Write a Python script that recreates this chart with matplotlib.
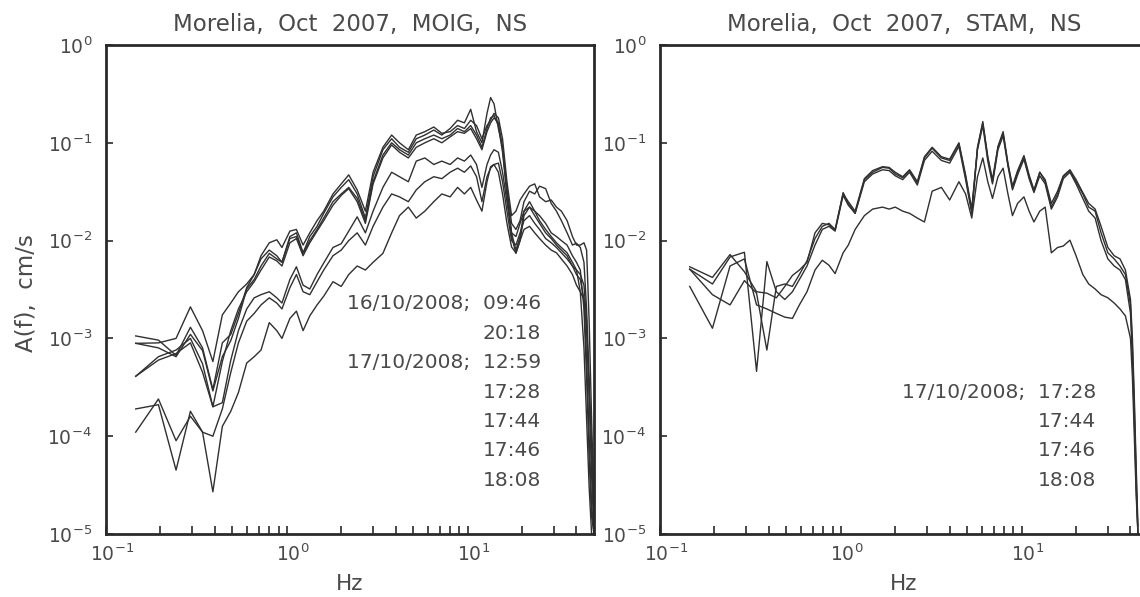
import numpy as np
import matplotlib
matplotlib.use('Agg')
import matplotlib.pyplot as plt
from matplotlib.ticker import LogLocator, NullFormatter, FixedLocator
from matplotlib.transforms import ScaledTranslation

# ---- data: MOIG, NS (left panel) ----
f_moig = [0.146, 0.195, 0.244, 0.293, 0.342, 0.39, 0.44, 0.49, 0.54, 0.60, 0.66, 0.72, 0.80, 0.88,
          0.94, 1.04, 1.13, 1.23, 1.34, 1.47, 1.6, 1.8, 2.0, 2.2, 2.45, 2.72, 3.0, 3.4, 3.8, 4.2,
          4.7, 5.2, 5.8, 6.5, 7.2, 8.0, 8.8, 9.6, 10.4, 11.2, 12.0, 12.8, 13.4, 14.0, 14.8, 15.6,
          16.5, 17.5, 18.5, 19.5, 20.5, 22, 23.5, 25, 27, 29, 31, 33, 35.5, 38, 40, 42, 44, 45.5,
          47, 48.5, 50]

moig_1 = [1.06e-3, 9.6e-4, 6.7e-4, 1.3e-3, 8.0e-4, 3.0e-4, 9e-4, 1.1e-3, 1.8e-3, 3.3e-3, 4.5e-3, 6.5e-3,
          8.0e-3, 7.0e-3, 6.0e-3, 0.011, 0.012, 7.5e-3, 0.011, 0.014, 0.019, 0.028, 0.035, 0.042, 0.03,
          0.017, 0.045, 0.085, 0.11, 0.09, 0.08, 0.11, 0.12, 0.135, 0.12, 0.14, 0.17, 0.16, 0.22, 0.13,
          0.1, 0.2, 0.29, 0.25, 0.14, 0.09, 0.035, 0.015, 0.013, 0.016, 0.025, 0.032, 0.03, 0.036,
          0.034, 0.024, 0.02, 0.016, 0.012, 9e-3, 9.4e-3, 8.5e-3, 6e-3, 2e-3, 4e-4, 6e-5, 1.5e-5]
moig_2 = [8.9e-4, 9.0e-4, 1.0e-3, 2.1e-3, 1.2e-3, 5.8e-4, 1.74e-3, 2.3e-3, 3.0e-3, 3.6e-3, 4.5e-3, 7.0e-3,
          9.5e-3, 0.0102, 8.5e-3, 0.0125, 0.013, 9.0e-3, 0.012, 0.016, 0.02, 0.03, 0.038, 0.047, 0.033,
          0.02, 0.05, 0.09, 0.12, 0.1, 0.085, 0.12, 0.13, 0.145, 0.125, 0.13, 0.15, 0.14, 0.17, 0.15,
          0.11, 0.15, 0.17, 0.2, 0.18, 0.11, 0.04, 0.018, 0.02, 0.026, 0.03, 0.036, 0.038, 0.028,
          0.025, 0.026, 0.022, 0.02, 0.016, 0.011, 9e-3, 9e-3, 9.5e-3, 8e-3, 1.5e-3, 1.5e-4, 2e-5]
moig_3 = [8.9e-4, 8.0e-4, 6.5e-4, 1.1e-3, 7.5e-4, 2.9e-4, 6.5e-4, 9.5e-4, 1.6e-3, 3.2e-3, 4.0e-3, 5.5e-3,
          7.4e-3, 6.5e-3, 6.0e-3, 0.0105, 0.011, 7.4e-3, 0.010, 0.013, 0.017, 0.025, 0.03, 0.035, 0.027,
          0.016, 0.04, 0.075, 0.1, 0.085, 0.075, 0.1, 0.11, 0.12, 0.11, 0.12, 0.14, 0.13, 0.15, 0.12,
          0.09, 0.14, 0.18, 0.19, 0.15, 0.08, 0.03, 0.012, 8e-3, 0.011, 0.02, 0.025, 0.02, 0.018,
          0.015, 0.012, 0.011, 0.01, 9e-3, 7e-3, 6e-3, 5e-3, 2e-3, 4e-4, 6e-5, 1.5e-5, 1e-5]
moig_4 = [4.1e-4, 6.5e-4, 7.6e-4, 1.0e-3, 5.5e-4, 2.0e-4, 5.8e-4, 1.2e-3, 2.0e-3, 3.0e-3, 3.8e-3, 5.0e-3,
          6.8e-3, 6.2e-3, 5.5e-3, 9.5e-3, 0.0105, 7.0e-3, 9.5e-3, 0.0125, 0.016, 0.023, 0.029, 0.034,
          0.025, 0.015, 0.038, 0.07, 0.095, 0.08, 0.07, 0.09, 0.1, 0.11, 0.1, 0.115, 0.13, 0.125, 0.14,
          0.11, 0.085, 0.13, 0.16, 0.18, 0.16, 0.09, 0.03, 0.011, 7.4e-3, 0.01, 0.018, 0.022, 0.02,
          0.016, 0.013, 0.011, 9.5e-3, 8.5e-3, 7.5e-3, 6e-3, 5e-3, 3e-3, 8e-4, 1.5e-4, 3e-5, 1e-5, 1e-5]
moig_5 = [4.1e-4, 6.0e-4, 7.0e-4, 9.0e-4, 4.5e-4, 2.0e-4, 2.2e-4, 6.0e-4, 1.2e-3, 2.0e-3, 2.6e-3, 2.8e-3,
          3.0e-3, 2.6e-3, 2.3e-3, 4.0e-3, 5.4e-3, 3.5e-3, 3.2e-3, 4.5e-3, 5.9e-3, 8.5e-3, 9.3e-3,
          0.0125, 0.0175, 0.012, 0.02, 0.035, 0.05, 0.045, 0.04, 0.065, 0.07, 0.06, 0.065, 0.06, 0.07,
          0.065, 0.075, 0.06, 0.035, 0.06, 0.075, 0.085, 0.08, 0.05, 0.025, 0.012, 0.011, 0.015, 0.02,
          0.022, 0.018, 0.015, 0.012, 0.0105, 9e-3, 8e-3, 7e-3, 5.5e-3, 4.5e-3, 4e-3, 2.5e-3, 6e-4,
          1e-4, 2e-5, 1e-5]
moig_6 = [1.9e-4, 2.1e-4, 4.5e-5, 1.8e-4, 1.1e-4, 1.0e-4, 1.9e-4, 4.5e-4, 9.0e-4, 1.5e-3, 1.8e-3, 2.2e-3,
          2.6e-3, 2.3e-3, 2.0e-3, 3.3e-3, 4.5e-3, 3.0e-3, 2.8e-3, 3.8e-3, 5.0e-3, 7.0e-3, 8.0e-3, 0.01,
          0.012, 9e-3, 0.014, 0.022, 0.03, 0.028, 0.025, 0.033, 0.04, 0.045, 0.043, 0.05, 0.055, 0.05,
          0.058, 0.045, 0.025, 0.045, 0.055, 0.06, 0.062, 0.04, 0.02, 0.01, 9e-3, 0.012, 0.016, 0.018,
          0.015, 0.013, 0.0105, 9.5e-3, 8.5e-3, 7.5e-3, 6.5e-3, 5.5e-3, 5e-3, 4.5e-3, 3.5e-3, 1.5e-3,
          2.5e-4, 4e-5, 1e-5]
moig_7 = [1.1e-4, 2.4e-4, 9.0e-5, 1.6e-4, 1.1e-4, 2.7e-5, 1.26e-4, 1.8e-4, 2.8e-4, 5.6e-4, 6.5e-4, 7.6e-4,
          1.45e-3, 1.2e-3, 1.0e-3, 1.6e-3, 1.9e-3, 1.2e-3, 1.7e-3, 2.2e-3, 2.7e-3, 3.8e-3, 3.4e-3,
          4.5e-3, 5.5e-3, 5.0e-3, 6.0e-3, 7.4e-3, 0.012, 0.018, 0.022, 0.017, 0.02, 0.025, 0.03, 0.028,
          0.035, 0.03, 0.035, 0.026, 0.02, 0.04, 0.057, 0.06, 0.05, 0.03, 0.015, 8.6e-3, 7.5e-3, 0.01,
          0.013, 0.014, 0.012, 0.0105, 9e-3, 8e-3, 7.5e-3, 6.5e-3, 5.5e-3, 4.5e-3, 3.5e-3, 3e-3, 2.5e-3,
          1.2e-3, 3e-4, 8e-5, 2e-5]

# ---- data: STAM, NS (right panel) ----
f_stam = [0.146, 0.195, 0.244, 0.293, 0.342, 0.39, 0.44, 0.49, 0.54, 0.59, 0.65, 0.72, 0.79, 0.86, 0.93,
          1.03, 1.1, 1.2, 1.35, 1.5, 1.7, 1.85, 2.0, 2.2, 2.4, 2.65, 2.9, 3.2, 3.6, 4.0, 4.5, 4.9, 5.3,
          5.7, 6.1, 6.5, 6.9, 7.4, 7.9, 8.4, 8.9, 9.5, 10.3, 11.0, 11.7, 12.6, 13.5, 14.6, 15.8, 17.0,
          18.5, 20, 21.8, 23.5, 25.5, 27.5, 30, 32.5, 35, 37.5, 40, 41, 42, 43, 44]

stam_1 = [5.4e-3, 4.2e-3, 7.2e-3, 4.8e-3, 3.0e-3, 2.9e-3, 2.6e-3, 3.4e-3, 4.4e-3, 5.0e-3, 6.0e-3, 0.012,
          0.015, 0.0145, 0.0128, 0.031, 0.024, 0.019, 0.042, 0.05, 0.056, 0.055, 0.048, 0.044, 0.052,
          0.039, 0.07, 0.088, 0.07, 0.066, 0.098, 0.045, 0.02, 0.09, 0.165, 0.07, 0.04, 0.09, 0.125,
          0.06, 0.035, 0.05, 0.072, 0.045, 0.032, 0.05, 0.04, 0.022, 0.03, 0.045, 0.052, 0.04, 0.03,
          0.022, 0.02, 0.012, 7.5e-3, 6.5e-3, 5.5e-3, 4.5e-3, 2.2e-3, 8e-4, 2e-4, 4e-5, 1e-5]
stam_2 = [5.1e-3, 3.6e-3, 6.8e-3, 7.6e-3, 4.6e-4, 6.1e-3, 3.0e-3, 2.5e-3, 3.0e-3, 4.0e-3, 5.5e-3, 9.0e-3,
          0.013, 0.014, 0.0125, 0.029, 0.023, 0.019, 0.04, 0.048, 0.053, 0.052, 0.046, 0.042, 0.05,
          0.037, 0.066, 0.082, 0.066, 0.062, 0.092, 0.042, 0.019, 0.085, 0.15, 0.065, 0.038, 0.085,
          0.118, 0.058, 0.033, 0.047, 0.068, 0.043, 0.031, 0.046, 0.038, 0.021, 0.028, 0.043, 0.05,
          0.038, 0.027, 0.02, 0.017, 0.01, 6.5e-3, 5.5e-3, 5e-3, 4e-3, 1.8e-3, 6e-4, 1.5e-4, 3e-5, 1e-5]
stam_3 = [5.1e-3, 2.8e-3, 2.2e-3, 3.9e-3, 2.9e-3, 7.6e-4, 3.4e-3, 3.6e-3, 3.4e-3, 4.5e-3, 6.2e-3, 0.0105,
          0.014, 0.015, 0.013, 0.03, 0.025, 0.02, 0.043, 0.052, 0.057, 0.056, 0.05, 0.045, 0.053, 0.04,
          0.072, 0.09, 0.072, 0.068, 0.1, 0.047, 0.021, 0.088, 0.158, 0.072, 0.042, 0.092, 0.13, 0.062,
          0.036, 0.052, 0.074, 0.047, 0.033, 0.05, 0.042, 0.024, 0.032, 0.046, 0.053, 0.042, 0.031,
          0.024, 0.021, 0.014, 8.5e-3, 7e-3, 6.5e-3, 5e-3, 2.5e-3, 1e-3, 2.5e-4, 5e-5, 1.2e-5]
stam_4 = [3.4e-3, 1.27e-3, 5.5e-3, 6.5e-3, 2.2e-3, 2.0e-3, 1.8e-3, 1.65e-3, 1.6e-3, 2.2e-3, 3.0e-3, 5.0e-3,
          6.3e-3, 5.6e-3, 4.6e-3, 7.5e-3, 9e-3, 0.013, 0.018, 0.021, 0.022, 0.021, 0.022, 0.02, 0.019,
          0.017, 0.0155, 0.032, 0.035, 0.026, 0.04, 0.03, 0.017, 0.045, 0.07, 0.04, 0.027, 0.045, 0.055,
          0.03, 0.018, 0.024, 0.028, 0.02, 0.0155, 0.02, 0.022, 7.5e-3, 8.5e-3, 8.8e-3, 0.0101, 7e-3,
          4.5e-3, 3.6e-3, 3.2e-3, 2.8e-3, 2.6e-3, 2.3e-3, 2e-3, 1.7e-3, 1.0e-3, 4e-4, 1e-4, 2.5e-5, 1e-5]

moig_labels = ['16/10/2008;  09:46', '20:18', '17/10/2008;  12:59', '17:28', '17:44', '17:46', '18:08']
stam_labels = ['17/10/2008;  17:28', '17:44', '17:46', '18:08']
label_rows = [0.472, 0.411, 0.35, 0.29, 0.231, 0.17, 0.11]

TXT = '#4a4a4a'
LINE = '#303030'
plt.rcParams['font.family'] = ['DejaVu Sans']

fig = plt.figure(figsize=(11.4, 5.97), dpi=100)
W, H = 1140, 597
ax1 = fig.add_axes([106 / W, 1 - 534 / H, 488 / W, 489 / H])
ax2 = fig.add_axes([660 / W, 1 - 534 / H, 488 / W, 489 / H])


def style(ax, title):
    ax.set_xscale('log')
    ax.set_yscale('log')
    ax.set_xlim(0.1, 50)
    ax.set_ylim(1e-5, 1)
    for s in ax.spines.values():
        s.set_linewidth(2.0)
        s.set_color('#2a2a2a')
    ax.xaxis.set_major_locator(FixedLocator([0.1, 1, 10]))
    ax.set_xticklabels([r'$\mathdefault{10^{-1}}$', r'$\mathdefault{10^{0}}$', r'$\mathdefault{10^{1}}$'])
    ax.xaxis.set_minor_locator(LogLocator(base=10, subs=np.arange(2, 10)))
    ax.xaxis.set_minor_formatter(NullFormatter())
    ax.yaxis.set_minor_locator(plt.NullLocator())
    ax.tick_params(axis='x', which='both', direction='in', length=6, width=1.2,
                   top=False, colors='#2a2a2a', labelcolor=TXT, labelsize=13.5, pad=7)
    ax.tick_params(axis='y', which='major', direction='in', length=5, width=1.2,
                   right=False, colors='#2a2a2a', labelcolor=TXT, labelsize=13.5, pad=10)
    # base "10" sits centred on the tick, exponent hangs to the right
    shift = ScaledTranslation(6 / 100, 0, fig.dpi_scale_trans)
    for lbl in ax.get_xticklabels():
        lbl.set_transform(lbl.get_transform() + shift)
    ax.set_title(title, fontsize=16.5, color=TXT, pad=10)


style(ax1, 'Morelia,  Oct  2007,  MOIG,  NS')
style(ax2, 'Morelia,  Oct  2007,  STAM,  NS')

for y in [moig_1, moig_2, moig_3, moig_4, moig_5, moig_6, moig_7]:
    ax1.plot(f_moig, y, color=LINE, lw=1.0)
for y in [stam_1, stam_2, stam_3, stam_4]:
    ax2.plot(f_stam, y, color=LINE, lw=1.0)

for lab, yy in zip(moig_labels, label_rows):
    ax1.text(0.891, yy, lab, transform=ax1.transAxes, ha='right', va='center',
             fontsize=14.5, color=TXT)
for lab, yy in zip(stam_labels, label_rows[3:]):
    ax2.text(0.893, yy, lab, transform=ax2.transAxes, ha='right', va='center',
             fontsize=14.5, color=TXT)

fig.text(27 / W, 1 - 293 / H, 'A(f),  cm/s', rotation=90, ha='center', va='center',
         fontsize=16.5, color=TXT)
fig.text(350 / W, 1 - 584 / H, 'Hz', ha='center', va='center', fontsize=15.5, color=TXT)
fig.text(904 / W, 1 - 584 / H, 'Hz', ha='center', va='center', fontsize=15.5, color=TXT)

fig.savefig('out.png', dpi=100)
